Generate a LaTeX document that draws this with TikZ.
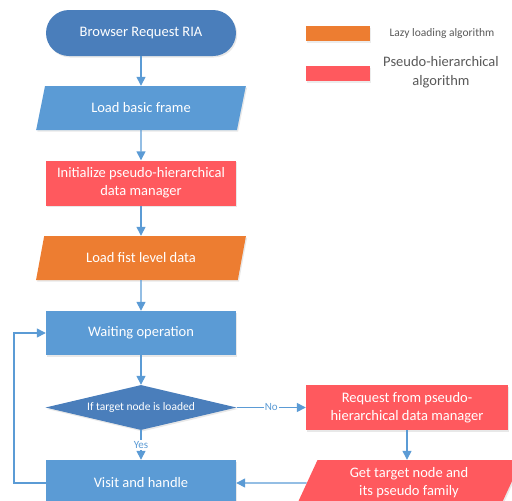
\documentclass[tikz,border=0pt]{standalone}
\usepackage{fontspec}
\setmainfont{Carlito}
\usetikzlibrary{shapes.geometric,shadows,arrows.meta}
\definecolor{dblue}{RGB}{74,126,187}
\definecolor{lblue}{RGB}{91,155,213}
\definecolor{pred}{RGB}{255,89,94}
\definecolor{porange}{RGB}{237,125,49}
\definecolor{lgray}{RGB}{89,89,89}
\begin{document}
\begin{tikzpicture}[x=1pt,y=-1pt,
  shad/.style={drop shadow={opacity=0.18,shadow xshift=1.2pt,shadow yshift=-1.5pt}},
  base/.style={text=white,inner sep=0pt,align=center,font=\fontsize{14.5}{18}\selectfont,shad},
  term/.style={base,rectangle,rounded corners=23pt,fill=dblue,minimum width=190pt,minimum height=46pt},
  proc/.style={base,rectangle,minimum width=190pt,minimum height=45pt},
  para/.style={base,trapezium,trapezium left angle=65.6,trapezium right angle=114.4,
    trapezium stretches=true,minimum width=210pt,minimum height=44pt},
  dec/.style={base,diamond,fill=dblue,aspect=4.2,minimum width=191pt,minimum height=45pt,
    font=\fontsize{11.5}{13}\selectfont},
  arr/.style={draw=lblue,line width=1.4pt,-{Triangle[length=9pt,width=9pt]}},
  lab/.style={text=lblue,fill=white,inner sep=1pt,font=\fontsize{11}{13}\selectfont},
  legbar/.style={rectangle,minimum width=64pt,minimum height=15pt,inner sep=0pt,
    drop shadow={opacity=0.15,shadow xshift=1pt,shadow yshift=-2pt}},
  legtxt/.style={text=lgray,align=center,inner sep=0pt}
]
\useasboundingbox (0,0) rectangle (512,501);

\node[term] (start) at (141,33) {Browser Request RIA};
\node[para,fill=lblue] (frame) at (141,108) {Load basic frame};
\node[proc,fill=pred] (init) at (141,183) {Initialize pseudo-hierarchical\\data manager};
\node[para,fill=porange] (first) at (141,258) {Load fist level data};
\node[proc,fill=lblue,minimum height=44pt] (wait) at (141,333) {Waiting operation};
\node[dec] (cond) at (141,407.5) {If target node is loaded};
\node[proc,fill=lblue,minimum height=46pt] (visit) at (141,483) {Visit and handle};
\node[proc,fill=pred,minimum width=202pt] (req) at (407,407.5) {Request from pseudo-\\hierarchical data manager};
\node[para,fill=pred,minimum width=226pt,minimum height=46pt] (get) at (409,483) {Get target node and\\its pseudo family};

\draw[arr] (start) -- (frame);
\draw[arr] (frame) -- (init);
\draw[arr] (init) -- (first);
\draw[arr] (first) -- (wait);
\draw[arr] (wait) -- (cond);
\draw[arr] (cond) -- node[lab] {Yes} (visit);
\draw[arr] (cond.east) -- node[lab] {No} (req.west);
\draw[arr] (req.south) -- (req.south |- get.north);
\draw[arr] (get.west) -- (visit.east);
\draw[arr] (visit.west) -- ++(-32,0) |- (wait.west);

\node[legbar,fill=porange] (legA) at (338,33.5) {};
\node[legbar,fill=pred] (legB) at (338,73) {};
\node[legtxt,font=\fontsize{11.5}{13}\selectfont] (legAt) at (442,33) {Lazy loading algorithm};
\node[legtxt,font=\fontsize{14.5}{19}\selectfont] (legBt) at (441,72) {Pseudo-hierarchical\\algorithm};
\end{tikzpicture}
\end{document}
